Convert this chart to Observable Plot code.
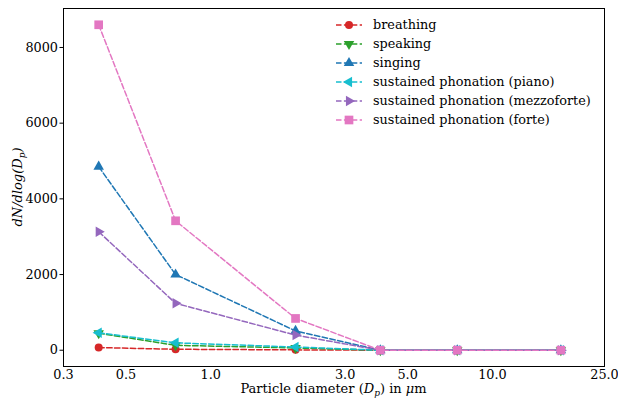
<!DOCTYPE html>
<html>
<head>
<meta charset="utf-8">
<script src="https://cdn.jsdelivr.net/npm/d3@7"></script>
<script src="https://cdn.jsdelivr.net/npm/@observablehq/plot@0.6"></script>
<style>
  html, body { margin: 0; padding: 0; background: #fff; }
  #wrap { position: relative; width: 618px; height: 401px; }
  svg text { font-family: "DejaVu Serif", serif; }
</style>
</head>
<body>
<div id="wrap"></div>
<script>
// ---- data ----
const diameters = [0.4, 0.75, 2, 4, 7.5, 17.5];
const seriesNames = [
  "breathing",
  "speaking",
  "singing",
  "sustained phonation (piano)",
  "sustained phonation (mezzoforte)",
  "sustained phonation (forte)"
];
const breathing = [70, 25, 10, 0, 0, 0];
const speaking = [450, 130, 60, 0, 0, 0];
const singing = [4850, 2000, 510, 0, 0, 0];
const piano = [460, 195, 85, 0, 0, 0];
const mezzoforte = [3130, 1240, 400, 0, 0, 0];
const forte = [8600, 3420, 840, 0, 0, 0];
const xTicks = [0.3, 0.5, 1, 3, 5, 10, 25];
const yTicks = [0, 2000, 4000, 6000, 8000];

const seriesValues = [breathing, speaking, singing, piano, mezzoforte, forte];
const colors = ["#d62728", "#2ca02c", "#1f77b4", "#17becf", "#9467bd", "#e377c2"];
const symbols = ["circle", "triangle", "triangle", "triangle", "triangle", "square"];
const rotations = [0, 180, 0, -90, 90, 0];
const radii = [4, 3.9, 3.9, 3.9, 3.9, 4.9];

const rows = [];
seriesNames.forEach((name, i) => {
  seriesValues[i].forEach((v, j) => rows.push({series: name, idx: i, x: diameters[j], y: v}));
});

const marks = [];
seriesNames.forEach((name, i) => {
  const d = rows.filter(r => r.idx === i);
  marks.push(Plot.line(d, {x: "x", y: "y", stroke: colors[i], strokeWidth: 1.5, strokeDasharray: "5.5,2.4"}));
  marks.push(Plot.dot(d, {x: "x", y: "y", fill: colors[i], stroke: "none", symbol: symbols[i], r: radii[i], rotate: rotations[i]}));
});

const chart = Plot.plot({
  width: 618,
  height: 401,
  marginLeft: 63,
  marginRight: 14,
  marginTop: 8,
  marginBottom: 35,
  style: {fontFamily: "DejaVu Serif, serif", fontSize: "12.8px", background: "#fff", color: "#000"},
  x: {type: "log", domain: [0.3, 25]},
  y: {domain: [-430, 9030]},
  marks: [
    ...marks,
    Plot.axisX({ticks: xTicks, tickFormat: d => d.toFixed(1), tickSize: 0, tickPadding: 3, label: null, fontSize: 12.8}),
    Plot.axisY({ticks: yTicks, tickFormat: d => String(d), tickSize: 3.5, tickPadding: 2, label: null, fontSize: 12.8}),
    Plot.frame({stroke: "#000", strokeWidth: 1})
  ]
});

document.getElementById("wrap").appendChild(chart);

const svg = d3.select(chart);
// y-axis label
const yl = svg.append("text")
  .attr("transform", "translate(22,187) rotate(-90)")
  .attr("text-anchor", "middle")
  .attr("font-size", 13)
  .attr("font-style", "italic")
  .attr("fill", "#000");
yl.append("tspan").text("dN/dlog(D");
yl.append("tspan").attr("font-size", 9).attr("dy", 3).text("p");
yl.append("tspan").attr("dy", -3).text(")");

// x-axis label
const xl = svg.append("text")
  .attr("x", 333.5).attr("y", 393)
  .attr("text-anchor", "middle")
  .attr("font-size", 13)
  .attr("fill", "#000");
xl.append("tspan").text("Particle diameter (");
xl.append("tspan").attr("font-style", "italic").text("D");
xl.append("tspan").attr("font-style", "italic").attr("font-size", 9).attr("dy", 3).text("p");
xl.append("tspan").attr("dy", -3).text(") in ");
xl.append("tspan").attr("font-style", "italic").text("\u03bc");
xl.append("tspan").text("m");

// legend
const lg = svg.append("g").attr("text-anchor", "start");
seriesNames.forEach((name, i) => {
  const y = 25 + i * 19;
  const g = lg.append("g").attr("transform", `translate(0,${y})`);
  g.append("line").attr("x1", 336).attr("x2", 362).attr("y1", 0).attr("y2", 0)
    .attr("stroke", colors[i]).attr("stroke-width", 1.5).attr("stroke-dasharray", "5.5,2.4");
  const symType = symbols[i] === "circle" ? d3.symbolCircle : symbols[i] === "square" ? d3.symbolSquare : d3.symbolTriangle;
  g.append("path").attr("d", d3.symbol(symType, Math.PI * radii[i] * radii[i])())
    .attr("transform", `translate(349,0) rotate(${rotations[i]})`)
    .attr("fill", colors[i]);
  g.append("text").attr("x", 373).attr("y", 0).attr("dy", "0.35em")
    .attr("text-anchor", "start")
    .attr("font-size", 12.8).attr("fill", "#000").text(name);
});
</script>
</body>
</html>
